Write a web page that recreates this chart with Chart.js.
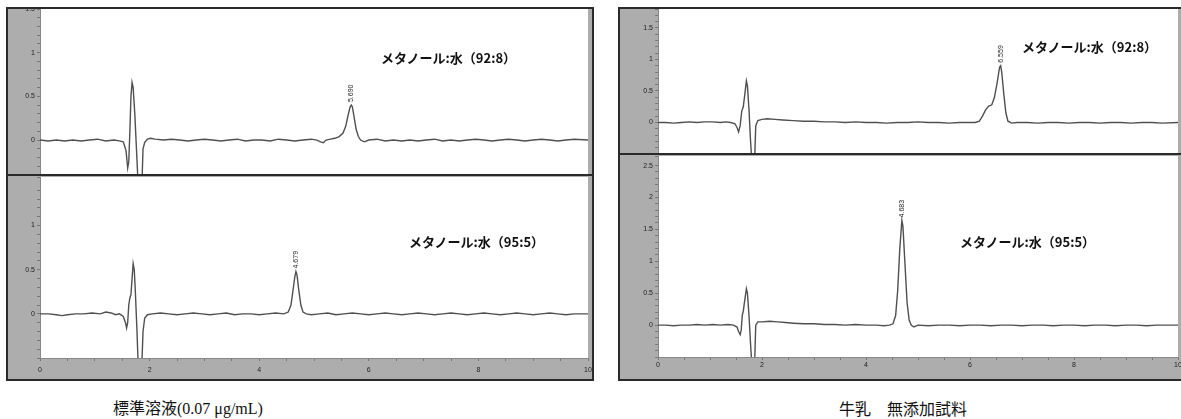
<!DOCTYPE html>
<html>
<head>
<meta charset="utf-8">
<script src="https://cdn.jsdelivr.net/npm/chart.js@4"></script>
<style>
  body { margin: 0; background: #fff; width: 1181px; height: 419px; overflow: hidden; position: relative; }
  canvas { position: absolute; }
  .frame { position: absolute; border: 2px solid #2a2a2a; background: #adadad; box-sizing: border-box; }
  .divider { position: absolute; height: 2px; background: #2a2a2a; }
  .cond { position: absolute; font-family: "Noto Sans CJK JP", sans-serif; font-weight: bold; font-size: 13px; color: #111; white-space: nowrap; line-height: 1; }
  .cap { position: absolute; font-family: "Liberation Serif", "Noto Sans CJK JP", serif; font-size: 16px; color: #111; white-space: nowrap; line-height: 1; }
</style>
</head>
<body>
<div class="frame" style="left:6px;top:7px;width:588px;height:374px;"></div>
<div class="frame" style="left:618px;top:7px;width:570px;height:374px;"></div>

<canvas id="stdTop" width="584" height="166" style="left:8px;top:9px;"></canvas>
<canvas id="stdBottom" width="584" height="202" style="left:8px;top:176px;"></canvas>
<canvas id="milkTop" width="561" height="145" style="left:620px;top:9px;"></canvas>
<canvas id="milkBottom" width="561" height="223" style="left:620px;top:155px;"></canvas>

<div class="divider" style="left:6px;top:174px;width:588px;"></div>
<div class="divider" style="left:618px;top:153px;width:563px;"></div>

<div class="cond" style="left:381px;top:51px;">メタノール:水（92:8）</div>
<div class="cond" style="left:409px;top:235px;">メタノール:水（95:5）</div>
<div class="cond" style="left:1022px;top:40px;">メタノール:水（92:8）</div>
<div class="cond" style="left:960px;top:235px;">メタノール:水（95:5）</div>

<div class="cap" style="left:113px;top:401px;">標準溶液(0.07 μg/mL)</div>
<div class="cap" style="left:839px;top:402px;">牛乳　無添加試料</div>

<script>
// retention time (min), response (AU)
const stdMeOH92 = [
  [0,0],[0.15,-0.01],[0.3,0],[0.45,-0.01],[0.6,0],[0.75,-0.01],[0.9,0],[1.05,0.01],[1.2,-0.01],[1.35,0],
  [1.45,-0.01],[1.52,-0.02],[1.57,-0.12],[1.6,-0.32],[1.62,-0.25],[1.64,0.1],[1.66,0.5],[1.68,0.66],
  [1.7,0.6],[1.73,0.3],[1.76,-0.1],[1.79,-0.5],[1.86,-0.5],[1.88,-0.1],[1.91,-0.03],[1.96,0.01],
  [2.02,0.02],[2.1,0.01],[2.25,0],[2.4,0.01],[2.55,0],[2.7,-0.01],[2.85,0],[3.0,0.01],[3.15,0],
  [3.3,-0.01],[3.45,0],[3.6,0.01],[3.75,-0.01],[3.9,0],[4.05,0],[4.2,-0.01],[4.35,0.01],[4.5,0],
  [4.65,-0.01],[4.8,0],[4.95,0.01],[5.05,0],[5.12,-0.02],[5.17,-0.03],[5.22,0],[5.3,0.01],[5.38,0.02],
  [5.46,0.04],[5.53,0.08],[5.58,0.16],[5.62,0.28],[5.66,0.38],[5.68,0.4],[5.7,0.38],[5.73,0.27],
  [5.77,0.12],[5.81,0.04],[5.85,0],[5.92,-0.02],[6.0,0],[6.15,0.01],[6.3,-0.01],[6.45,0],[6.6,-0.01],
  [6.75,0],[6.9,-0.01],[7.05,0],[7.2,0.01],[7.35,-0.01],[7.5,0],[7.65,-0.01],[7.8,0],[7.95,0.01],
  [8.1,0],[8.25,-0.01],[8.4,0],[8.55,0.01],[8.7,0],[8.85,-0.01],[9.0,0],[9.15,0.01],[9.3,0],
  [9.45,-0.01],[9.6,0],[9.75,0.01],[10,0]
];
const stdMeOH95 = [
  [0,0],[0.15,0],[0.3,-0.01],[0.4,-0.02],[0.5,-0.01],[0.65,0],[0.8,0],[0.95,0.01],[1.1,0],[1.2,0.02],
  [1.3,0.01],[1.38,-0.01],[1.45,0],[1.52,-0.03],[1.56,-0.1],[1.58,-0.16],[1.6,-0.1],[1.62,0.1],
  [1.64,0.18],[1.66,0.22],[1.68,0.4],[1.7,0.57],[1.72,0.5],[1.74,0.25],[1.77,-0.2],[1.79,-0.55],
  [1.86,-0.55],[1.88,-0.2],[1.91,-0.05],[1.96,-0.01],[2.05,0],[2.2,0.01],[2.35,0],[2.5,-0.01],
  [2.65,0],[2.8,0.01],[2.95,0],[3.1,-0.01],[3.25,0],[3.4,0.01],[3.55,-0.01],[3.7,0],[3.85,0],
  [4.0,-0.01],[4.15,0],[4.3,0.01],[4.45,0],[4.53,0.02],[4.58,0.1],[4.62,0.28],[4.65,0.42],[4.67,0.48],
  [4.69,0.44],[4.72,0.28],[4.76,0.1],[4.8,0.02],[4.86,0],[4.95,-0.01],[5.1,0],[5.25,0.01],[5.4,-0.01],
  [5.55,0],[5.7,0.01],[5.85,0],[6.0,-0.01],[6.15,0],[6.3,0.01],[6.45,0],[6.6,-0.01],[6.75,0],
  [6.9,0.01],[7.05,0],[7.2,-0.01],[7.35,0],[7.5,0.01],[7.65,0],[7.8,-0.01],[7.95,0],[8.1,0.01],
  [8.25,0],[8.4,-0.01],[8.55,0],[8.7,0.01],[8.85,0],[9.0,-0.01],[9.15,0],[9.3,0.01],[9.45,0],
  [9.6,-0.01],[9.75,0],[10,0]
];
const milkMeOH92 = [
  [0,0],[0.15,0],[0.3,-0.01],[0.45,0],[0.6,0.01],[0.75,0],[0.9,0.01],[1.05,0.01],[1.2,0],[1.3,0.01],
  [1.4,0],[1.48,-0.02],[1.52,-0.08],[1.55,-0.15],[1.58,-0.05],[1.61,0.18],[1.64,0.25],[1.67,0.45],
  [1.7,0.66],[1.72,0.58],[1.75,0.2],[1.78,-0.3],[1.8,-0.55],[1.86,-0.55],[1.88,-0.05],[1.92,0.03],
  [2.0,0.05],[2.1,0.06],[2.25,0.05],[2.4,0.04],[2.6,0.03],[2.8,0.02],[3.0,0.02],[3.2,0.01],[3.4,0.01],
  [3.6,0],[3.8,0.01],[4.0,0],[4.2,0],[4.4,-0.01],[4.6,0],[4.8,0],[5.0,0.01],[5.2,0],[5.4,0],
  [5.6,-0.01],[5.8,0],[6.0,0],[6.1,0],[6.18,0.02],[6.24,0.1],[6.3,0.2],[6.36,0.26],[6.42,0.28],
  [6.47,0.4],[6.52,0.62],[6.57,0.88],[6.59,0.9],[6.61,0.8],[6.65,0.45],[6.69,0.15],[6.73,0.02],
  [6.8,-0.01],[6.9,0],[7.1,0],[7.3,-0.01],[7.5,0],[7.7,0],[7.9,-0.01],[8.1,0],[8.3,0],[8.5,-0.01],
  [8.7,0],[8.9,0],[9.1,-0.01],[9.3,0],[9.5,0],[9.7,-0.01],[10,0]
];
const milkMeOH95 = [
  [0,0],[0.15,0],[0.3,-0.01],[0.45,0],[0.6,0],[0.75,0.01],[0.9,0],[1.05,0.01],[1.2,0],[1.35,0.01],
  [1.45,0],[1.52,-0.03],[1.55,-0.1],[1.58,-0.15],[1.6,-0.08],[1.62,0.15],[1.64,0.22],[1.67,0.4],
  [1.7,0.57],[1.72,0.5],[1.75,0.15],[1.78,-0.3],[1.8,-0.55],[1.86,-0.55],[1.88,0],[1.92,0.05],
  [2.0,0.05],[2.15,0.06],[2.3,0.05],[2.45,0.04],[2.6,0.03],[2.8,0.02],[3.0,0.02],[3.2,0.01],
  [3.4,0.01],[3.6,0],[3.8,0.01],[4.0,0],[4.2,0],[4.35,-0.01],[4.45,0],[4.52,0.02],[4.57,0.15],
  [4.61,0.55],[4.65,1.2],[4.69,1.64],[4.71,1.55],[4.75,0.95],[4.79,0.35],[4.83,0.08],[4.87,0],
  [4.92,-0.03],[5.0,0],[5.2,-0.01],[5.4,0],[5.6,0],[5.8,-0.01],[6.0,0],[6.2,0],[6.4,-0.01],
  [6.6,0],[6.8,0],[7.0,-0.01],[7.2,0],[7.4,0],[7.6,-0.01],[7.8,0],[8.0,0],[8.2,-0.01],[8.4,0],
  [8.6,0],[8.8,-0.01],[9.0,0],[9.2,0],[9.4,-0.01],[9.6,0],[9.8,0],[10,0]
];

// integrated peak retention times printed on the traces
const stdPeakLabels = ["5.690", "4.679"];
const milkPeakLabels = ["6.559", "4.683"];
const stdPeakTimes = [5.68, 4.67];
const milkPeakTimes = [6.59, 4.69];

// y axis ranges of each trace window
const yMin = [-0.4, -0.5, -0.5, -0.5];
const yMax = [1.5, 1.55, 1.8, 2.65];

const panelBg = {
  id: "panelBg",
  beforeDraw(chart) {
    const { ctx, chartArea } = chart;
    ctx.save();
    ctx.fillStyle = "#adadad";
    ctx.fillRect(0, 0, chart.width, chart.height);
    ctx.fillStyle = "#ffffff";
    ctx.fillRect(chartArea.left, chartArea.top, chartArea.right - chartArea.left, chartArea.bottom - chartArea.top);
    ctx.restore();
  }
};

const peakText = {
  id: "peakText",
  afterDatasetsDraw(chart, args, opts) {
    const { ctx, scales } = chart;
    const trace = chart.data.datasets[0].data;
    let top = trace[0];
    trace.forEach(p => {
      if (Math.abs(p.x - opts.time) < 0.2 && p.y > top.y) top = p;
    });
    const px = scales.x.getPixelForValue(top.x);
    const py = scales.y.getPixelForValue(top.y);
    ctx.save();
    ctx.translate(px, py - 3);
    ctx.rotate(-Math.PI / 2);
    ctx.font = "7px 'Liberation Sans', sans-serif";
    ctx.fillStyle = "#222";
    ctx.textAlign = "left";
    ctx.textBaseline = "middle";
    ctx.fillText(opts.label, 0, 0);
    ctx.restore();
  }
};

function drawTrace(id, trace, idx, showX, yWidth, padRight, padTop, xHeight, xPad, peakLabel, peakTime) {
  new Chart(document.getElementById(id), {
    type: "line",
    data: {
      datasets: [
        {
          data: trace.map(p => ({ x: p[0], y: p[1] })),
          borderColor: "#505050",
          borderWidth: 1.4,
          pointRadius: 0,
          tension: 0,
        },
      ],
    },
    options: {
      responsive: false,
      animation: false,
      devicePixelRatio: 1,
      layout: { padding: { left: 0, right: padRight, top: padTop, bottom: 0 } },
      scales: {
        x: {
          type: "linear",
          min: 0,
          max: 10,
          display: showX,
          afterFit(scale) {
            scale.height = xHeight;
            scale.paddingLeft = 0;
            scale.paddingRight = 0;
          },
          ticks: {
            stepSize: 0.5,
            autoSkip: false,
            maxRotation: 0,
            padding: xPad,
            color: "#222",
            font: { size: 7, family: "Liberation Sans" },
            callback: v => (Math.abs(v / 2 - Math.round(v / 2)) < 1e-6 ? String(v) : ""),
          },
          grid: { drawOnChartArea: false, tickLength: 3, color: "#777" },
          border: { color: "#888" },
        },
        y: {
          min: yMin[idx],
          max: yMax[idx],
          afterFit(scale) {
            scale.width = yWidth;
            scale.paddingTop = 0;
            scale.paddingBottom = 0;
          },
          ticks: {
            stepSize: 0.1,
            autoSkip: false,
            padding: 2,
            color: "#222",
            font: { size: 7, family: "Liberation Sans" },
            callback: v => {
              const r = Math.round(v * 2) / 2;
              return Math.abs(v - r) < 1e-6 && r >= 0 ? String(r) : "";
            },
          },
          grid: { drawOnChartArea: false, tickLength: 3, color: "#777" },
          border: { color: "#888" },
        },
      },
      plugins: {
        legend: { display: false },
        tooltip: { enabled: false },
        peakText: { label: peakLabel, time: peakTime },
      },
    },
    plugins: [panelBg, peakText],
  });
}

drawTrace("stdTop", stdMeOH92, 0, false, 32, 4, 0, 0, 1, stdPeakLabels[0], stdPeakTimes[0]);
drawTrace("stdBottom", stdMeOH95, 1, true, 32, 4, 1, 20, 5, stdPeakLabels[1], stdPeakTimes[1]);
drawTrace("milkTop", milkMeOH92, 2, false, 38, 3, 0, 0, 1, milkPeakLabels[0], milkPeakTimes[0]);
drawTrace("milkBottom", milkMeOH95, 3, true, 38, 3, 1, 21, 1, milkPeakLabels[1], milkPeakTimes[1]);
</script>
</body>
</html>
